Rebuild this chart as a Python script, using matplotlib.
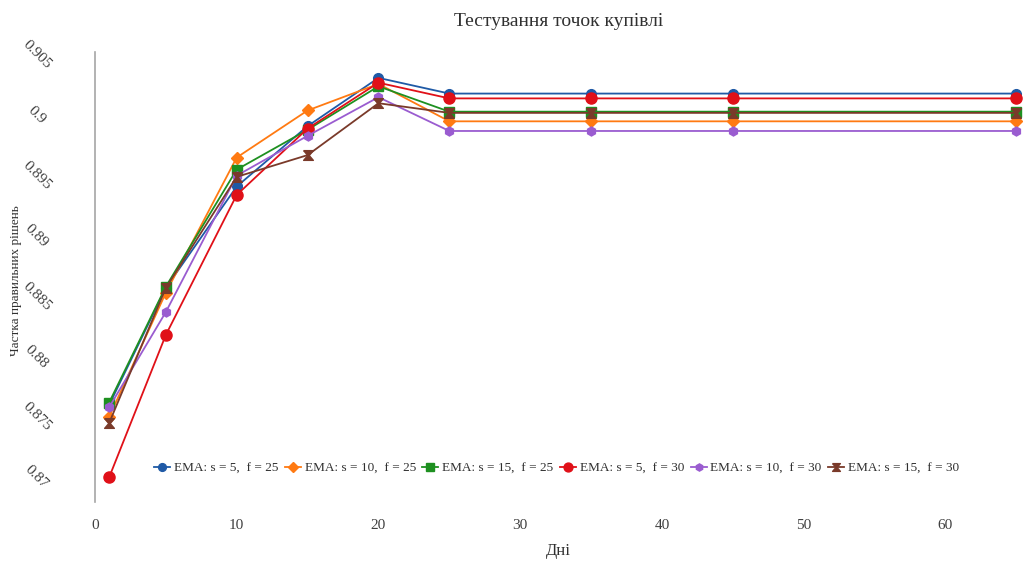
import matplotlib
matplotlib.use("Agg")
import matplotlib.pyplot as plt

days = [1, 5, 10, 15, 20, 25, 35, 45, 65]
ema_s5_f25 = [0.8760, 0.8857, 0.8941, 0.8991, 0.9031, 0.9018, 0.9018, 0.9018, 0.9018]
ema_s10_f25 = [0.8750, 0.8853, 0.8965, 0.9004, 0.9026, 0.8995, 0.8995, 0.8995, 0.8995]
ema_s15_f25 = [0.8762, 0.8858, 0.8955, 0.8988, 0.9024, 0.9003, 0.9003, 0.9003, 0.9003]
ema_s5_f30 = [0.8700, 0.8818, 0.8934, 0.8989, 0.9027, 0.9014, 0.9014, 0.9014, 0.9014]
ema_s10_f30 = [0.8758, 0.8837, 0.8950, 0.8983, 0.9015, 0.8987, 0.8987, 0.8987, 0.8987]
ema_s15_f30 = [0.8745, 0.8857, 0.8949, 0.8967, 0.9010, 0.9002, 0.9002, 0.9002, 0.9002]

labels = ["EMA: s = 5,  f = 25", "EMA: s = 10,  f = 25", "EMA: s = 15,  f = 25",
          "EMA: s = 5,  f = 30", "EMA: s = 10,  f = 30", "EMA: s = 15,  f = 30"]
yticks = [0.87, 0.875, 0.88, 0.885, 0.89, 0.895, 0.9, 0.905]
ytick_labels = ["0.87", "0.875", "0.88", "0.885", "0.89", "0.895", "0.9", "0.905"]
xticks = [0, 10, 20, 30, 40, 50, 60]

plt.rcParams['font.family'] = ['Liberation Serif', 'DejaVu Serif']

hourglass = [(-1, 1), (1, 1), (0.15, 0), (1, -1), (-1, -1), (-0.15, 0), (-1, 1)]

series = [ema_s5_f25, ema_s10_f25, ema_s15_f25, ema_s5_f30, ema_s10_f30, ema_s15_f30]
styles = [
    dict(color='#1f5aa6', marker='o', ms=7),
    dict(color='#ff7a12', marker='D', ms=6.5),
    dict(color='#1e9020', marker='s', ms=7),
    dict(color='#e01018', marker='o', ms=8),
    dict(color='#9a5cd0', marker='h', ms=6.5),
    dict(color='#7a3a2a', marker=hourglass, ms=7),
]

fig = plt.figure(figsize=(10.3, 5.61), dpi=100)
ax = fig.add_axes([0.0922, 0.105, 0.9, 0.802])

for vals, lab, st in zip(series, labels, styles):
    ax.plot(days, vals, label=lab, color=st['color'], lw=1.3, marker=st['marker'],
            markersize=st['ms'], markerfacecolor=st['color'], markeredgecolor=st['color'])

ax.set_xlim(0, 65.4)
ax.set_ylim(0.86795, 0.90523)
ax.set_xticks(xticks)
ax.set_xticklabels([str(t) for t in xticks], fontsize=11, color='#404040')
ax.set_yticks(yticks)
ax.set_yticklabels(ytick_labels, fontsize=11, color='#404040', rotation=-45,
                   rotation_mode='anchor', ha='center', va='center')
ax.tick_params(axis='y', length=0, pad=42)
ax.tick_params(axis='x', length=0, pad=12)

for s in ['top', 'right', 'bottom']:
    ax.spines[s].set_visible(False)
ax.spines['left'].set_color('#a6a6a6')
ax.spines['left'].set_linewidth(1.2)

ax.set_title("Тестування точок купівлі", fontsize=14, color='#303030', pad=19)
ax.set_xlabel("Дні", fontsize=12, color='#303030', labelpad=8)
fig.text(16 / 1030, 0.5, "Частка правильних рішень", fontsize=9.5, color='#303030',
         rotation=90, ha='center', va='center')

leg = ax.legend(loc='lower center', bbox_to_anchor=(0.498, 0.035), ncol=6, frameon=False,
                fontsize=9.5, handlelength=1.2, handletextpad=0.3, columnspacing=0.5,
                markerscale=0.8)
for t in leg.get_texts():
    t.set_color('#303030')

fig.savefig("out.png", dpi=100, facecolor='white')
